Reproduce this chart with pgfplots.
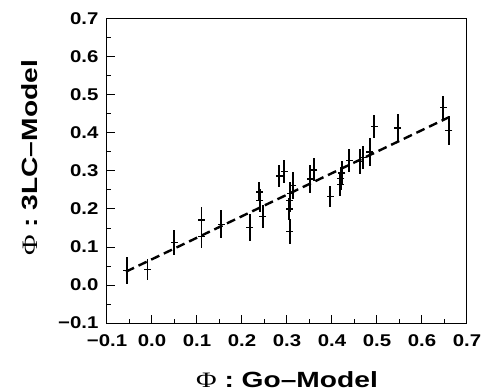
\documentclass[border=0pt]{standalone}
\usepackage{fontspec}
\setmainfont{Liberation Sans}
\newfontfamily\phifont{Liberation Serif}
\usepackage{graphicx}
\usepackage{pgfplots}
\pgfplotsset{compat=1.18}
\newcommand\sx[1]{\scalebox{1.2}[1]{#1}}
\newcommand\slab[1]{\scalebox{1.28}[1]{#1}}
\pgfplotstableread{
x y e
-0.056 0.038 0.035
-0.010 0.040 0.028
0.049 0.111 0.033
0.110 0.127 0.030
0.110 0.171 0.035
0.154 0.160 0.037
0.217 0.152 0.035
0.238 0.245 0.025
0.240 0.222 0.030
0.246 0.180 0.030
0.283 0.287 0.030
0.294 0.298 0.030
0.306 0.140 0.033
0.305 0.200 0.030
0.306 0.222 0.030
0.307 0.240 0.030
0.313 0.262 0.035
0.352 0.279 0.038
0.360 0.303 0.030
0.396 0.233 0.028
0.418 0.265 0.030
0.420 0.280 0.030
0.422 0.295 0.030
0.438 0.328 0.030
0.462 0.325 0.033
0.468 0.335 0.030
0.484 0.350 0.038
0.494 0.417 0.030
0.546 0.413 0.038
0.647 0.468 0.030
0.660 0.406 0.038
}\datatable
\begin{document}
\begin{tikzpicture}
\useasboundingbox (-107bp,-69bp) rectangle (376bp,323bp);
\begin{axis}[
  scale only axis,
  width=360bp, height=304bp,
  xmin=-0.1, xmax=0.7, ymin=-0.1, ymax=0.7,
  axis line style={line width=1bp},
  xtick={-0.1,0,0.1,0.2,0.3,0.4,0.5,0.6,0.7},
  ytick={-0.1,0,0.1,0.2,0.3,0.4,0.5,0.6,0.7},
  xticklabels={\sx{−0.1},\sx{0.0},\sx{0.1},\sx{0.2},\sx{0.3},\sx{0.4},\sx{0.5},\sx{0.6},\sx{0.7}},
  yticklabels={\sx{−0.1},\sx{0.0},\sx{0.1},\sx{0.2},\sx{0.3},\sx{0.4},\sx{0.5},\sx{0.6},\sx{0.7}},
  minor x tick num=1, minor y tick num=1,
  xtick pos=bottom, ytick pos=left,
  tick align=inside,
  major tick length=8bp, minor tick length=4bp,
  every tick/.style={line width=1bp, black},
  tick label style={font=\fontsize{17bp}{20bp}\selectfont\bfseries},
  xticklabel style={anchor=center, yshift=-18bp},
  yticklabel style={anchor=east, xshift=-5bp},
  label style={font=\fontsize{22bp}{26bp}\selectfont\bfseries},
  xlabel={\slab{{\phifont\mdseries Φ} : Go–Model}},
  ylabel={\slab{{\phifont\mdseries Φ} : 3LC–Model}},
  xlabel style={at={(axis description cs:0.5,-0.1875)}, anchor=center},
  ylabel style={at={(axis description cs:-0.2139,0.543)}, anchor=center},
]
\addplot[black, dash pattern=on 9bp off 5bp, line width=2.4bp] coordinates {(-0.058,0.035) (0.659,0.441)};
\addplot[black, only marks, mark=-, mark size=3.5bp, mark options={line width=1.3bp},
  error bars/.cd, y dir=both, y explicit, error mark=none,
  error bar style={line width=1.9bp, black}]
  table[x=x, y=y, y error=e] {\datatable};
\end{axis}
\end{tikzpicture}
\end{document}
